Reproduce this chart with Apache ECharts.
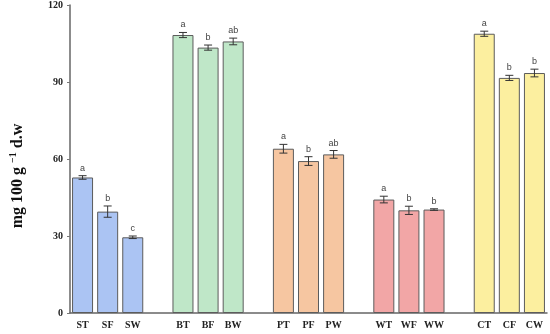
<!DOCTYPE html>
<html>
<head>
<meta charset="utf-8">
<script src="https://cdn.jsdelivr.net/npm/echarts@6/dist/echarts.min.js"></script>
<style>html,body{margin:0;padding:0;background:#fff;}#c{width:550px;height:334px;}</style>
</head>
<body>
<div id="c"></div>
<script>
// categories ('' = blank gap between groups)
const categories = ['ST','SF','SW','','BT','BF','BW','','PT','PF','PW','','WT','WF','WW','','CT','CF','CW'];
const values     = [52.8,39.5,29.5,null,108.3,103.4,105.8,null,64.0,59.2,61.8,null,44.2,40.0,40.3,null,108.8,91.6,93.5];
const errors     = [0.7,2.2,0.5,null,1.0,1.0,1.3,null,1.7,1.7,1.5,null,1.3,1.6,0.3,null,1.0,1.0,1.5];
const letters    = ['a','b','c','','a','b','ab','','a','b','ab','','a','b','b','','a','b','b'];
const groupColors = ['#abc4f3','#bfe7c8','#f6c6a1','#f2a6a6','#fcef9f'];
const yTicks = [0,30,60,90,120];

const axisData = categories.map((c,i)=> c === '' ? '\u200b'.repeat(i) : c);
const barData = categories.map((c,i)=>{
  if (c === '') return null;
  const g = Math.floor(i/4);
  return {value: values[i], itemStyle:{color: groupColors[g]}};
});
const errData = categories.map((c,i)=> c === '' ? null : [i, values[i], errors[i], letters[i]]).filter(d=>d);

const chart = echarts.init(document.getElementById('c'));
chart.setOption({
  animation:false,
  grid:{left:65,right:3,top:5,bottom:21},
  xAxis:{
    type:'category', data:axisData,
    axisLine:{lineStyle:{color:'#666',width:1.5}},
    axisTick:{alignWithLabel:true,length:2,lineStyle:{color:'#777'},
      interval:(idx,val)=> !val.startsWith('\u200b') && val !== ''},
    axisLabel:{interval:0,margin:7,fontFamily:'Liberation Serif',fontWeight:'bold',fontSize:10,color:'#222',
      formatter:(v)=> v.startsWith('\u200b') ? '' : v}
  },
  yAxis:{
    type:'value', min:yTicks[0], max:yTicks[yTicks.length-1], interval:30,
    name:'{a|mg 100 g }{s|\u22121}{a| d.w}', nameLocation:'middle', nameGap:43, nameRotate:90,
    nameTextStyle:{padding:[0,34,0,0],rich:{
      a:{fontFamily:'Liberation Serif',fontWeight:'bold',fontSize:16,color:'#111'},
      s:{fontFamily:'Liberation Serif',fontWeight:'bold',fontSize:10,color:'#111',verticalAlign:'top',padding:[0,0,9,0]}
    }},
    splitLine:{show:false},
    axisLine:{show:true,lineStyle:{color:'#666',width:1.5}},
    axisTick:{show:true,length:3,lineStyle:{color:'#777'}},
    axisLabel:{margin:7,fontFamily:'Liberation Serif',fontWeight:'bold',fontSize:10,color:'#222'}
  },
  series:[
    {type:'bar',data:barData,barWidth:21,itemStyle:{borderColor:'#5c5c5c',borderWidth:1}},
    {type:'custom',data:errData,z:10,
      renderItem:(params,api)=>{
        const x = api.value(0), v = api.value(1), e = api.value(2);
        const lt = errData[params.dataIndex][3];
        const top = api.coord([x, v+e]), bot = api.coord([x, v-e]);
        const cap = 4;
        const st = {stroke:'#333',lineWidth:1};
        return {type:'group',children:[
          {type:'line',shape:{x1:top[0],y1:top[1],x2:bot[0],y2:bot[1]},style:st},
          {type:'line',shape:{x1:top[0]-cap,y1:top[1],x2:top[0]+cap,y2:top[1]},style:st},
          {type:'line',shape:{x1:bot[0]-cap,y1:bot[1],x2:bot[0]+cap,y2:bot[1]},style:st},
          {type:'text',style:{text:lt,x:top[0],y:top[1]-3,align:'center',verticalAlign:'bottom',
            fontFamily:'Liberation Sans',fontSize:9,fill:'#444'}}
        ]};
      }}
  ]
});
</script>
</body>
</html>
